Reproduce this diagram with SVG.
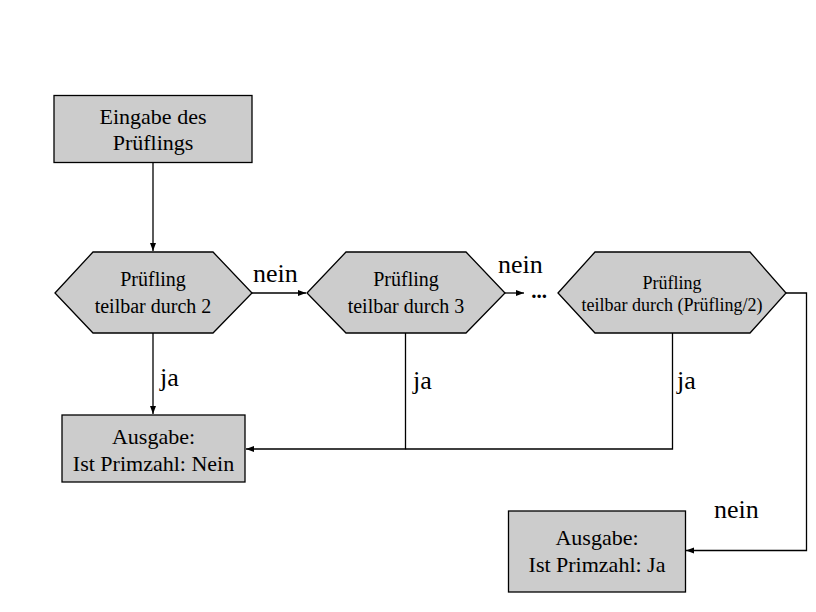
<svg xmlns="http://www.w3.org/2000/svg" width="816" height="612" viewBox="0 0 816 612">
<defs>
<marker id="ah" markerWidth="8" markerHeight="8" refX="8" refY="4" orient="auto" markerUnits="userSpaceOnUse">
<path d="M0,1 L8,4 L0,7 Z" fill="#000"/>
</marker>
<style>
.box{fill:#cccccc;stroke:#000;stroke-width:1.3}
.t{font-family:"Liberation Serif","Times New Roman",serif;fill:#000;text-anchor:middle}
.bt{font-size:22px}
.ht{font-size:20px}
.h3{font-size:18px}
.lb{font-family:"Liberation Serif","Times New Roman",serif;font-size:26px;fill:#000}
.c{fill:none;stroke:#000;stroke-width:1.3}
</style>
</defs>
<rect width="816" height="612" fill="#fff"/>
<g id="connectors">
<path class="c" d="M153,163 V251" marker-end="url(#ah)"/>
<path class="c" d="M252,293 H306" marker-end="url(#ah)"/>
<path class="c" d="M505,293 H524" marker-end="url(#ah)"/>
<path class="c" d="M153,333 V414" marker-end="url(#ah)"/>
<path class="c" d="M405.5,333 V449 H246" marker-end="url(#ah)"/>
<path class="c" d="M672.5,333 V449 H405.5"/>
<path class="c" d="M786,293 H806.5 V550.5 H686" marker-end="url(#ah)"/>
<text class="lb" x="253" y="282">nein</text>
<text class="lb" x="498" y="273">nein</text>
<text class="lb" x="714" y="518">nein</text>
<text class="lb" x="160" y="386">ja</text>
<text class="lb" x="413" y="389">ja</text>
<text class="lb" x="677" y="389">ja</text>
<text class="t" x="539" y="298" style="font-size:21px;font-weight:bold">...</text>
</g>
<g id="eingabe">
<rect class="box" x="54" y="95.5" width="198" height="67"/>
<text class="t bt" x="153" y="124">Eingabe des</text>
<text class="t bt" x="153" y="150">Prüflings</text>
</g>
<g id="test2">
<polygon class="box" points="55,293 93,252 213,252 252,293 213,333 93,333"/>
<text class="t ht" x="153" y="286">Prüfling</text>
<text class="t ht" x="153" y="313">teilbar durch 2</text>
</g>
<g id="test3">
<polygon class="box" points="307,293 346,252 466,252 505,293 466,333 346,333"/>
<text class="t ht" x="406" y="286">Prüfling</text>
<text class="t ht" x="406" y="313">teilbar durch 3</text>
</g>
<g id="testN">
<polygon class="box" points="558,293 595,252 750,252 786,293 750,333 595,333"/>
<text class="t h3" x="672" y="289">Prüfling</text>
<text class="t h3" x="672" y="311">teilbar durch (Prüfling/2)</text>
</g>
<g id="ausgabeNein">
<rect class="box" x="62" y="415" width="183" height="67"/>
<text class="t bt" x="153.5" y="444">Ausgabe:</text>
<text class="t bt" x="153.5" y="471">Ist Primzahl: Nein</text>
</g>
<g id="ausgabeJa">
<rect class="box" x="508.5" y="511" width="177" height="81"/>
<text class="t bt" x="597" y="545">Ausgabe:</text>
<text class="t bt" x="597" y="572">Ist Primzahl: Ja</text>
</g>
</svg>
